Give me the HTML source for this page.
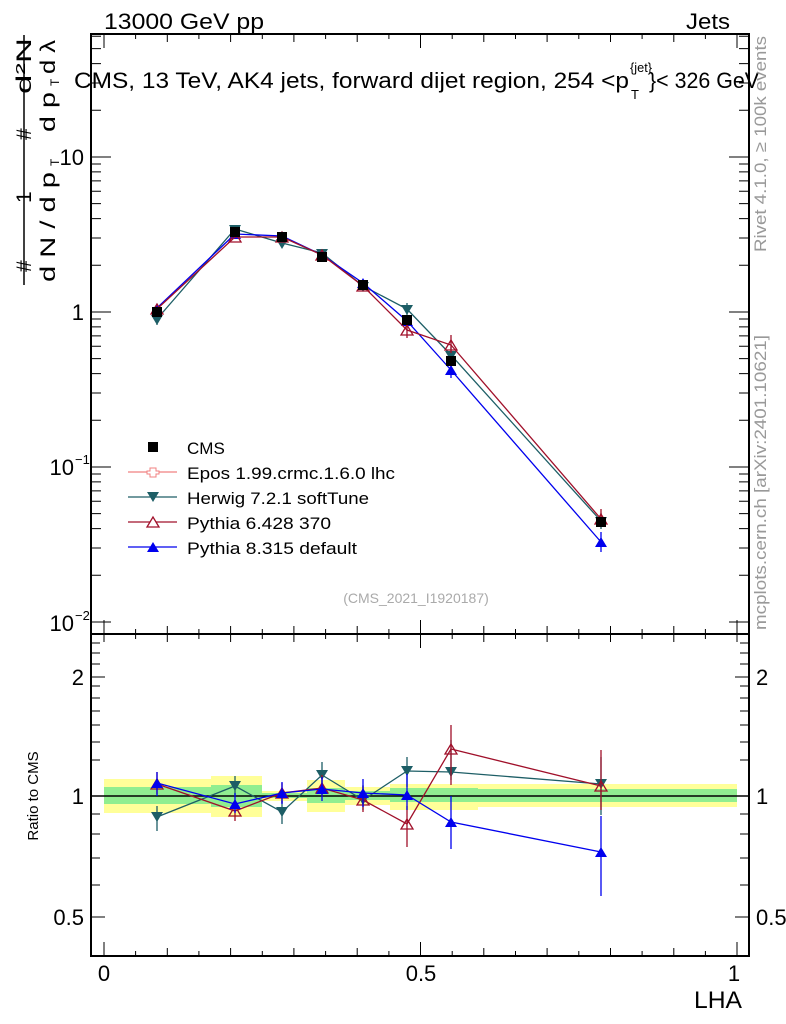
<!DOCTYPE html>
<html><head><meta charset="utf-8"><style>
body{margin:0;background:#fff}
svg{display:block;font-family:"Liberation Sans",sans-serif}
</style></head><body>
<svg width="786" height="1024" viewBox="0 0 786 1024" xmlns="http://www.w3.org/2000/svg">
<text x="104" y="29" font-size="22" textLength="160" lengthAdjust="spacingAndGlyphs">13000 GeV pp</text>
<text x="686" y="29" font-size="22" textLength="44" lengthAdjust="spacingAndGlyphs">Jets</text>
<text x="74" y="88" font-size="22" textLength="555" lengthAdjust="spacingAndGlyphs">CMS, 13 TeV, AK4 jets, forward dijet region, 254 &lt;p</text>
<text x="630" y="72" font-size="13" textLength="22" lengthAdjust="spacingAndGlyphs">{jet}</text>
<text x="631" y="99" font-size="13">T</text>
<text x="649" y="88" font-size="22" textLength="110" lengthAdjust="spacingAndGlyphs">}&lt; 326 GeV</text>
<text transform="translate(766,252) rotate(-90)" font-size="17" fill="#999" textLength="216" lengthAdjust="spacingAndGlyphs">Rivet 4.1.0, ≥ 100k events</text>
<text transform="translate(766,630) rotate(-90)" font-size="17" fill="#999" textLength="295" lengthAdjust="spacingAndGlyphs">mcplots.cern.ch [arXiv:2401.10621]</text>
<g font-size="21">
<text transform="translate(31,272) rotate(-90)">#</text>
<text transform="translate(31,203) rotate(-90)">1</text>
<text transform="translate(31,140) rotate(-90)">#</text>
<text transform="translate(31,94) rotate(-90)" textLength="56" lengthAdjust="spacingAndGlyphs">d²N</text>
<line x1="24" y1="285" x2="24" y2="35" stroke="#000" stroke-width="1.5"/>
<text transform="translate(55,282) rotate(-90)" textLength="110" lengthAdjust="spacingAndGlyphs">d N / d p</text>
<text transform="translate(55,132) rotate(-90)" textLength="40" lengthAdjust="spacingAndGlyphs">d p</text>
<text transform="translate(55,74) rotate(-90)" textLength="34" lengthAdjust="spacingAndGlyphs">d λ</text>
<text transform="translate(59,166) rotate(-90)" font-size="12">T</text>
<text transform="translate(59,86) rotate(-90)" font-size="12">T</text>
</g>
<rect x="91" y="34" width="658" height="600" fill="none" stroke="#000" stroke-width="2"/>
<rect x="91" y="634" width="658" height="322" fill="none" stroke="#000" stroke-width="2"/>
<g stroke="#000" stroke-width="1">
<path d="M104,634v-14M420.5,634v-14M737,634v-14M104,34v14M420.5,34v14M737,34v14
M135.6,634v-5M167.3,634v-8M198.9,634v-5M230.6,634v-8M262.3,634v-5M293.9,634v-8M325.6,634v-5M357.2,634v-8M388.9,634v-5M452.2,634v-5M483.8,634v-8M515.5,634v-5M547.1,634v-8M578.8,634v-5M610.5,634v-8M642.1,634v-5M673.8,634v-8M705.4,634v-5
M135.6,34v5M167.3,34v8M198.9,34v5M230.6,34v8M262.3,34v5M293.9,34v8M325.6,34v5M357.2,34v8M388.9,34v5M452.2,34v5M483.8,34v8M515.5,34v5M547.1,34v8M578.8,34v5M610.5,34v8M642.1,34v5M673.8,34v8M705.4,34v5
M104,956v-14M420.5,956v-14M737,956v-14
M135.6,956v-5M167.3,956v-8M198.9,956v-5M230.6,956v-8M262.3,956v-5M293.9,956v-8M325.6,956v-5M357.2,956v-8M388.9,956v-5M452.2,956v-5M483.8,956v-8M515.5,956v-5M547.1,956v-8M578.8,956v-5M610.5,956v-8M642.1,956v-5M673.8,956v-8M705.4,956v-5
M104,634v8M420.5,634v14M737,634v8
M135.6,634v5M167.3,634v8M198.9,634v5M230.6,634v8M262.3,634v5M293.9,634v8M325.6,634v5M357.2,634v8M388.9,634v5M452.2,634v5M483.8,634v8M515.5,634v5M547.1,634v8M578.8,634v5M610.5,634v8M642.1,634v5M673.8,634v8M705.4,634v5"/>
<path d="M91,622h20M91,467h20M91,312h20M91,157h20M749,622h-20M749,467h-20M749,312h-20M749,157h-20
M91,575.3h10M91,548h10M91,528.6h10M91,513.6h10M91,501.3h10M91,490.9h10M91,481.9h10M91,474h10
M91,420.3h10M91,393h10M91,373.6h10M91,358.6h10M91,346.3h10M91,335.9h10M91,326.9h10M91,319h10
M91,265.3h10M91,238h10M91,218.6h10M91,203.6h10M91,191.3h10M91,180.9h10M91,171.9h10M91,164h10
M91,110.3h10M91,83h10M91,63.6h10M91,48.6h10M91,36.3h10
M749,575.3h-10M749,548h-10M749,528.6h-10M749,513.6h-10M749,501.3h-10M749,490.9h-10M749,481.9h-10M749,474h-10
M749,420.3h-10M749,393h-10M749,373.6h-10M749,358.6h-10M749,346.3h-10M749,335.9h-10M749,326.9h-10M749,319h-10
M749,265.3h-10M749,238h-10M749,218.6h-10M749,203.6h-10M749,191.3h-10M749,180.9h-10M749,171.9h-10M749,164h-10
M749,110.3h-10M749,83h-10M749,63.6h-10M749,48.6h-10M749,36.3h-10
M91,917h14M91,796h14M91,677h14M749,917h-14M749,796h-14M749,677h-14
M91,885h9M91,858h9M91,834h9M91,814h9M91,760h9M91,742h9M91,725h9M91,711h9M91,698h9M91,686h9M91,664h9M91,653h9M91,643h9
M749,885h-9M749,858h-9M749,834h-9M749,814h-9M749,760h-9M749,742h-9M749,725h-9M749,711h-9M749,698h-9M749,686h-9M749,664h-9M749,653h-9M749,643h-9"/>
</g>
<g font-size="22">
<text x="84" y="320" text-anchor="end">1</text>
<text x="84" y="165" text-anchor="end">10</text>
<text x="74" y="475" text-anchor="end">10</text><text x="75" y="464" font-size="13">−1</text>
<text x="74" y="631" text-anchor="end">10</text><text x="75" y="620" font-size="13">−2</text>
<text x="84" y="804" text-anchor="end">1</text>
<text x="84" y="685" text-anchor="end">2</text>
<text x="84" y="925" text-anchor="end">0.5</text>
<text x="756" y="804">1</text>
<text x="756" y="685">2</text>
<text x="756" y="925">0.5</text>
<text x="104" y="981" text-anchor="middle">0</text>
<text x="421" y="981" text-anchor="middle">0.5</text>
<text x="734" y="981" text-anchor="middle">1</text>
<text x="742" y="1008" text-anchor="end" font-size="24" textLength="48" lengthAdjust="spacingAndGlyphs">LHA</text>
</g>
<text transform="translate(38,796) rotate(-90)" font-size="15" text-anchor="middle">Ratio to CMS</text>
<text x="416" y="603" font-size="14" fill="#aaa" text-anchor="middle">(CMS_2021_I1920187)</text>
<g fill="#ffff99">
<rect x="104" y="779" width="107" height="34"/><rect x="211" y="776" width="51" height="41"/><rect x="262" y="791" width="45" height="10"/><rect x="307" y="780" width="38" height="32"/><rect x="345" y="787" width="45" height="18"/><rect x="390" y="784" width="88" height="26"/><rect x="478" y="784" width="259" height="23"/>
</g>
<g fill="#90ee90">
<rect x="104" y="787" width="107" height="17"/><rect x="211" y="785" width="51" height="22"/><rect x="262" y="793" width="45" height="5"/><rect x="307" y="788" width="38" height="15"/><rect x="345" y="791" width="45" height="9"/><rect x="390" y="788" width="88" height="14"/><rect x="478" y="789" width="259" height="13"/>
</g>
<line x1="91" y1="796" x2="749" y2="796" stroke="#000" stroke-width="1.5"/>
<g stroke="#1d5e66" fill="#1d5e66" stroke-width="1.3">
<polyline fill="none" points="157,319 235,229 282,243 322,253 363,286 407,309 451,355 601,521"/>
<path d="M157,313v12M407,303v12M451,347v16M601,513v16"/>
<g stroke="none"><path d="M151,315h12l-6,10z M229,225h12l-6,10z M276,239h12l-6,10z M316,249h12l-6,10z M357,282h12l-6,10z M401,305h12l-6,10z M445,351h12l-6,10z M595,517h12l-6,10z"/></g>
</g>
<g stroke="#0000ee" fill="#0000ee" stroke-width="1.3">
<polyline fill="none" points="157,308 235,234 282,236 322,255 363,283 407,321 451,370 601,542"/>
<path d="M451,362v16M601,532v20"/>
<g stroke="none"><path d="M151,313h12l-6,-10z M229,239h12l-6,-10z M276,241h12l-6,-10z M316,260h12l-6,-10z M357,288h12l-6,-10z M401,326h12l-6,-10z M445,375h12l-6,-10z M595,547h12l-6,-10z"/></g>
</g>
<g stroke="#a0102a" fill="none" stroke-width="1.3">
<polyline points="157,309 235,237 282,237 322,255 363,286 407,330 451,345 601,519"/>
<path d="M407,322v16M451,335v18M601,509v18"/>
<path d="M151,314h12l-6,-10z M229,242h12l-6,-10z M276,242h12l-6,-10z M316,260h12l-6,-10z M357,291h12l-6,-10z M401,335h12l-6,-10z M445,350h12l-6,-10z M595,524h12l-6,-10z"/>
</g>
<g fill="#000">
<rect x="152" y="307" width="10" height="10"/><rect x="230" y="227" width="10" height="10"/><rect x="277" y="232" width="10" height="10"/><rect x="317" y="252" width="10" height="10"/><rect x="358" y="280" width="10" height="10"/><rect x="402" y="315" width="10" height="10"/><rect x="446" y="356" width="10" height="10"/><rect x="596" y="517" width="10" height="10"/>
</g>
<g stroke="#1d5e66" fill="#1d5e66" stroke-width="1.3">
<polyline fill="none" points="157,817 235,786 282,812 322,775 363,800 407,771 451,772 601,784"/>
<path d="M157,806v25M235,776v20M282,801v23M322,762v26M363,785v25M407,757v30M451,740v40M601,757v58"/>
<g stroke="none"><path d="M151,812h12l-6,10z M229,781h12l-6,10z M276,807h12l-6,10z M316,770h12l-6,10z M357,795h12l-6,10z M401,766h12l-6,10z M445,767h12l-6,10z M595,779h12l-6,10z"/></g>
</g>
<g stroke="#a0102a" fill="none" stroke-width="1.3">
<polyline points="157,784 235,811 282,793 322,788 363,800 407,824 451,749 601,786"/>
<path d="M157,772v22M235,801v20M282,783v20M322,775v22M363,786v26M407,806v41M451,725v60M601,750v60"/>
<path d="M151,789h12l-6,-10z M229,816h12l-6,-10z M276,798h12l-6,-10z M316,793h12l-6,-10z M357,805h12l-6,-10z M401,829h12l-6,-10z M445,754h12l-6,-10z M595,791h12l-6,-10z"/>
</g>
<g stroke="#0000ee" fill="#0000ee" stroke-width="1.3">
<polyline fill="none" points="157,783 235,804 282,793 322,789 363,793 407,795 451,822 601,852"/>
<path d="M157,772v24M235,793v20M282,782v22M322,777v24M363,779v28M407,774v36M451,796v53M601,816v80"/>
<g stroke="none"><path d="M151,788h12l-6,-10z M229,809h12l-6,-10z M276,798h12l-6,-10z M316,794h12l-6,-10z M357,798h12l-6,-10z M401,800h12l-6,-10z M445,827h12l-6,-10z M595,857h12l-6,-10z"/></g>
</g>
<g font-size="17">
<rect x="148" y="442" width="10" height="10" fill="#000"/>
<text x="187" y="454">CMS</text>
<line x1="128" y1="472" x2="177" y2="472" stroke="#f08080" stroke-width="1.3"/>
<path d="M150,468h6v3h3v3h-3v3h-6v-3h-3v-3h3z" fill="#fff" stroke="#f08080"/>
<text x="187" y="479" textLength="208" lengthAdjust="spacingAndGlyphs">Epos 1.99.crmc.1.6.0 lhc</text>
<line x1="128" y1="497" x2="177" y2="497" stroke="#1d5e66" stroke-width="1.3"/>
<path d="M147,492h12l-6,10z" fill="#1d5e66"/>
<text x="187" y="504" textLength="182" lengthAdjust="spacingAndGlyphs">Herwig 7.2.1 softTune</text>
<line x1="128" y1="522" x2="177" y2="522" stroke="#a0102a" stroke-width="1.3"/>
<path d="M147,527h12l-6,-10z" fill="#fff" stroke="#a0102a" stroke-width="1.3"/>
<text x="187" y="529" textLength="144" lengthAdjust="spacingAndGlyphs">Pythia 6.428 370</text>
<line x1="128" y1="547" x2="177" y2="547" stroke="#0000ee" stroke-width="1.3"/>
<path d="M147,552h12l-6,-10z" fill="#0000ee"/>
<text x="187" y="554" textLength="170" lengthAdjust="spacingAndGlyphs">Pythia 8.315 default</text>
</g>
</svg>
</body></html>
